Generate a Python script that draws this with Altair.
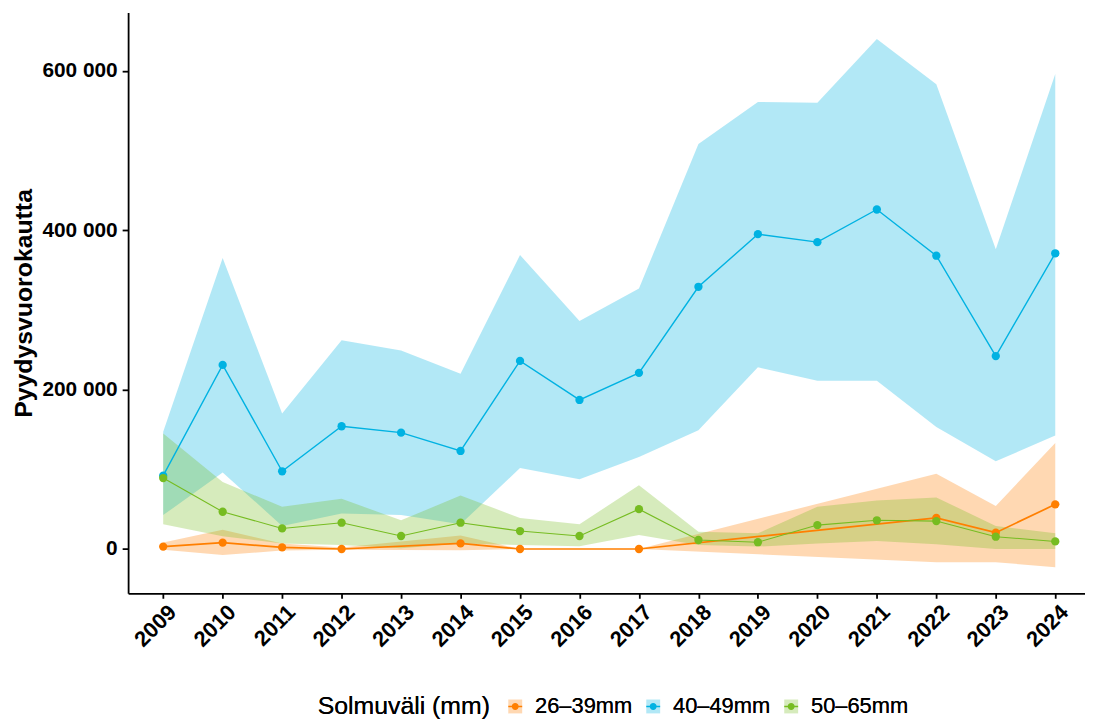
import altair as alt
import pandas as pd

series = ["26–39mm", "40–49mm", "50–65mm"]
colors = ["#FF7F00", "#00B2E2", "#76BC21"]
years = list(range(2009, 2025))

# 26–39mm (no values for 2013, 2016, 2018–2021)
s1_years = [2009, 2010, 2011, 2012, 2014, 2015, 2017, 2022, 2023, 2024]
s1_mean = [3000, 8000, 2000, 0, 7000, 0, 0, 39000, 20500, 56000]
s1_low = [-1000, -7500, -2000, -1000, -1500, 0, 0, -16500, -16500, -23000]
s1_high = [8000, 24000, 7000, 2000, 17000, 0, 0, 94500, 54000, 133000]

# 40–49mm
s2_years = years
s2_mean = [92000, 231000, 97500, 154000, 146000, 123000, 236000, 187000,
           221000, 329000, 395000, 385000, 426000, 368000, 242000, 371000]
s2_low = [42500, 96000, 29000, 44500, 42500, 31000, 101500, 87500,
          115500, 149000, 228000, 211000, 211000, 153000, 110000, 142500]
s2_high = [147000, 365000, 170000, 262000, 249000, 220000, 369000, 286000,
           327000, 508000, 561000, 560000, 640000, 583000, 376000, 596000]

# 50–65mm
s3_years = years
s3_mean = [89000, 46700, 25800, 33000, 16300, 33000, 22500, 16300,
           50000, 11300, 8500, 30000, 36000, 35000, 15400, 9500]
s3_low = [31000, 16000, 7000, 5000, 1000, 7000, 5000, 3500,
          17500, 5000, 3000, 7000, 10000, 6000, 0, 0]
s3_high = [145000, 84000, 53000, 63000, 36000, 67000, 39000, 31000,
           80000, 21700, 19600, 53000, 61000, 64600, 29000, 19600]

y_ticks = [0, 200000, 400000, 600000]

rows = []
for name, ys, m, lo, hi in [
    (series[0], s1_years, s1_mean, s1_low, s1_high),
    (series[1], s2_years, s2_mean, s2_low, s2_high),
    (series[2], s3_years, s3_mean, s3_low, s3_high),
]:
    for yr, a, b, c in zip(ys, m, lo, hi):
        rows.append({"year": yr, "series": name, "mean": a, "low": b, "high": c})
df = pd.DataFrame(rows)

FONT = "Liberation Sans"

x_enc = alt.X(
    "year:Q",
    scale=alt.Scale(domain=[2008.41, 2024.5], nice=False, zero=False),
    axis=alt.Axis(
        values=years, format="d", title=None, labelAngle=315,
        labelAlign="right", labelBaseline="top", labelPadding=3,
        labelOffset=2,
        labelFont=FONT, labelFontSize=22, labelFontWeight="bold",
        labelColor="black", domainColor="black", domainWidth=1.8,
        tickColor="black", tickWidth=1.8, tickSize=5, grid=False,
        labelOverlap=False,
    ),
)
y_scale = alt.Scale(domain=[-55600, 673000], nice=False, zero=False)
y_axis = alt.Axis(
    values=y_ticks, title="Pyydysvuorokautta",
    labelExpr="replace(format(datum.value, ','), ',', ' ')",
    labelFont=FONT, labelFontSize=21, labelFontWeight="bold", labelColor="black",
    labelPadding=5, titleFont=FONT, titleFontSize=25, titleFontWeight="bold",
    titleColor="black", titlePadding=5, domainColor="black", domainWidth=1.8,
    tickColor="black", tickWidth=1.8, tickSize=6, grid=False,
)

legend_common = dict(
    orient="none", legendX=191, legendY=688, direction="horizontal",
    title="Solmuväli (mm)", titleOrient="left", titleFont=FONT,
    titleFontSize=25, titleFontWeight="normal", titleColor="black",
    titlePadding=14, labelFont=FONT, labelFontSize=22, labelColor="black",
    labelOffset=9, columnPadding=10, symbolSize=196, symbolStrokeWidth=0,
    symbolOffset=0, titleBaseline="middle", titleAnchor="middle",
)

band = alt.Chart(df).mark_area(fillOpacity=0.3, strokeWidth=0).encode(
    x=x_enc,
    y=alt.Y("low:Q", scale=y_scale, axis=y_axis),
    y2="high:Q",
    fill=alt.Fill(
        "series:N", scale=alt.Scale(domain=series, range=colors),
        legend=alt.Legend(symbolType="square", symbolOpacity=0.3, **legend_common),
    ),
)

lines = alt.Chart(df).mark_line().encode(
    x=x_enc,
    y=alt.Y("mean:Q", scale=y_scale, axis=y_axis),
    stroke=alt.Stroke("series:N", scale=alt.Scale(domain=series, range=colors), legend=None),
    strokeWidth=alt.StrokeWidth("series:N", scale=alt.Scale(domain=series, range=[1.7, 1.1, 1.6]), legend=None),
)

sym_path = ("M-1,-0.12L1,-0.12L1,0.12L-1,0.12Z "
            "M-0.5,0A0.5,0.5,0,1,1,0.5,0A0.5,0.5,0,1,1,-0.5,0Z")
points = alt.Chart(df).mark_circle(size=70, opacity=1).encode(
    x=x_enc,
    y=alt.Y("mean:Q", scale=y_scale, axis=y_axis),
    color=alt.Color(
        "series:N", scale=alt.Scale(domain=series, range=colors),
        legend=alt.Legend(symbolType=sym_path, symbolOpacity=1, **legend_common),
    ),
)

chart = alt.layer(band, lines, points).resolve_scale(
    fill="independent", color="independent", stroke="independent"
).properties(
    width=964, height=585, background="white",
    padding={"left": 4, "top": 2, "right": 0, "bottom": 0},
).configure_view(stroke=None)

chart.save("out.html", embed_options={"renderer": "svg", "actions": False})
